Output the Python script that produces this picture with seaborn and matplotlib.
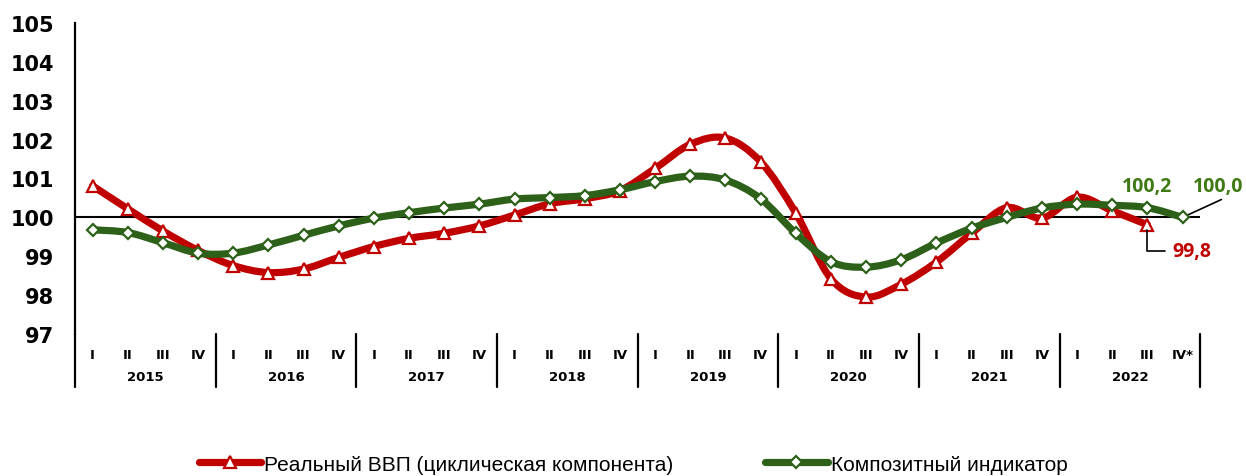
import numpy as np
import matplotlib
matplotlib.use("Agg")
import matplotlib.pyplot as plt
import seaborn as sns
from matplotlib.path import Path
from matplotlib.patches import PathPatch
from matplotlib.lines import Line2D
import matplotlib.transforms as mtransforms

# Данные (читались с картинки)
years = ["2015", "2016", "2017", "2018", "2019", "2020", "2021", "2022"]
quarters = ["I", "II", "III", "IV"] * 7 + ["I", "II", "III", "IV*"]

gdp = [100.81, 100.22, 99.65, 99.15,
       98.76, 98.58, 98.67, 98.97,
       99.25, 99.46, 99.59, 99.78,
       100.06, 100.35, 100.48, 100.69,
       101.26, 101.88, 102.04, 101.43,
       100.11, 98.42, 97.95, 98.28,
       98.85, 99.59, 100.25, 99.98,
       100.52, 100.17, 99.81]

composite = [99.68, 99.61, 99.35, 99.08,
             99.08, 99.29, 99.54, 99.78,
             99.98, 100.12, 100.24, 100.34,
             100.47, 100.51, 100.56, 100.71,
             100.92, 101.06, 100.96, 100.48,
             99.59, 98.86, 98.72, 98.91,
             99.34, 99.72, 100.0, 100.24,
             100.34, 100.31, 100.25, 100.0]

gdp_label = "Реальный ВВП (циклическая компонента)"
comp_label = "Композитный индикатор"

RED = "#C00000"
GREEN = "#2D6119"
LABEL_GREEN = "#3F7A14"

sns.set_theme(style="white")
plt.rcParams["font.family"] = ["DejaVu Sans"]
plt.rcParams["text.color"] = "black"
plt.rcParams["xtick.color"] = "black"
plt.rcParams["ytick.color"] = "black"


def smooth_path(xs, ys):
    """Кривая Безье как у сглаженной линии Excel."""
    pts = np.column_stack([xs, ys])
    verts = [pts[0]]
    codes = [Path.MOVETO]
    n = len(pts)
    for i in range(n - 1):
        p0 = pts[max(i - 1, 0)]
        p1 = pts[i]
        p2 = pts[i + 1]
        p3 = pts[min(i + 2, n - 1)]
        c1 = p1 + (p2 - p0) / 6.0
        c2 = p2 - (p3 - p1) / 6.0
        verts += [c1, c2, p2]
        codes += [Path.CURVE4] * 3
    return Path(verts, codes)


fig = plt.figure(figsize=(12.46, 4.77), dpi=100)
ax = fig.add_axes([0.0602, 0.2977, 0.903, 0.652])

x_gdp = np.arange(len(gdp))
x_comp = np.arange(len(composite))

# линии
ax.add_patch(PathPatch(smooth_path(x_gdp, gdp), fill=False, edgecolor=RED,
                       lw=5.2, capstyle="round", joinstyle="round", zorder=2))
ax.add_patch(PathPatch(smooth_path(x_comp, composite), fill=False, edgecolor=GREEN,
                       lw=5.2, capstyle="round", joinstyle="round", zorder=4))

# маркеры
sns.lineplot(x=x_gdp, y=gdp, ax=ax, lw=0, marker="^", markersize=9,
             markerfacecolor="white", markeredgecolor=RED, markeredgewidth=1.6,
             zorder=3)
sns.lineplot(x=x_comp, y=composite, ax=ax, lw=0, marker="D", markersize=6.5,
             markerfacecolor="white", markeredgecolor=GREEN, markeredgewidth=1.6,
             zorder=5)

ax.axhline(100, color="black", lw=1.5, zorder=1)

ax.set_xlim(-0.5, 31.5)
ax.set_ylim(97, 105)
ax.set_yticks(range(97, 106))
ax.set_yticklabels([str(v) for v in range(97, 106)], fontsize=15, fontweight="bold")
ax.tick_params(axis="y", length=0, pad=15)
ax.set_xticks(range(len(quarters)))
ax.set_xticklabels(quarters, fontsize=9.5, fontweight="bold")
ax.tick_params(axis="x", length=0, pad=10)

for s in ["top", "right", "bottom"]:
    ax.spines[s].set_visible(False)
ax.spines["left"].set_color("black")
ax.spines["left"].set_linewidth(1.6)

# подписи годов и разделители
trans = mtransforms.blended_transform_factory(ax.transData, ax.transAxes)
ax.plot([-0.5, -0.5], [0, -0.17], color="black", lw=1.6, transform=trans, clip_on=False)
for j, yr in enumerate(years):
    ax.text(4 * j + 1.5, -0.138, yr, transform=trans, ha="center", va="center",
            fontsize=9.5, fontweight="bold")
    xs = 4 * j + 3.5
    ax.plot([xs, xs], [0, -0.17], color="black", lw=1.6, transform=trans, clip_on=False)

# подписи значений
lbl_font = ["Open Sans", "DejaVu Sans"]
ax.text(x_comp[30], composite[30] + 0.56, "100,2", color=LABEL_GREEN, fontsize=14,
        fontweight="bold", family=lbl_font, ha="center", va="center")
ax.annotate("100,0", xy=(x_comp[31], composite[31]), xytext=(x_comp[31] + 0.3, composite[31] + 0.8),
            color=LABEL_GREEN, fontsize=14, fontweight="bold", family=lbl_font,
            ha="left", va="center", annotation_clip=False,
            arrowprops=dict(arrowstyle="-", color="black", lw=1.2,
                            shrinkA=0, shrinkB=2,
                            relpos=(0.7, 0.0)))
ax.annotate("99,8", xy=(x_gdp[30], gdp[30]), xytext=(x_gdp[30] + 0.7, gdp[30] - 0.67),
            color=RED, fontsize=14, fontweight="bold", family=lbl_font,
            ha="left", va="center", annotation_clip=False,
            arrowprops=dict(arrowstyle="-", color="black", lw=1.2,
                            shrinkA=3, shrinkB=4,
                            connectionstyle="angle,angleA=180,angleB=90,rad=0",
                            relpos=(0.0, 0.5)))

# легенда
handles = [
    Line2D([], [], color=RED, lw=5.2, marker="^", markersize=9,
           markerfacecolor="white", markeredgecolor=RED, markeredgewidth=1.6,
           solid_capstyle="round"),
    Line2D([], [], color=GREEN, lw=5.2, marker="D", markersize=6.5,
           markerfacecolor="white", markeredgecolor=GREEN, markeredgewidth=1.6,
           solid_capstyle="round"),
]
leg = fig.legend(handles, [gdp_label, comp_label], loc="center",
                 bbox_to_anchor=(0.508, 0.025), ncol=2, frameon=False,
                 handlelength=3.0, handletextpad=0.15, columnspacing=4.4,
                 prop={"family": ["Liberation Sans Narrow", "Liberation Sans"], "size": 15})

fig.savefig("out.png", dpi=100)
